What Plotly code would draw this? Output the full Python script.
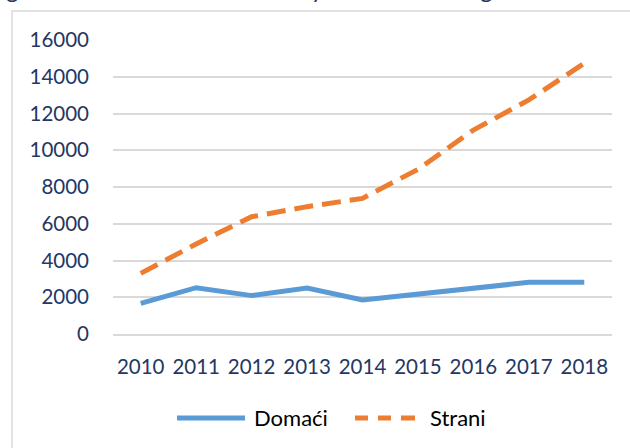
import plotly.graph_objects as go

years = ["2010", "2011", "2012", "2013", "2014", "2015", "2016", "2017", "2018"]
domaci = [1670, 2520, 2090, 2500, 1850, 2180, 2500, 2810, 2820]
strani = [3300, 4900, 6380, 6930, 7380, 8960, 11100, 12740, 14730]
y_ticks = [0, 2000, 4000, 6000, 8000, 10000, 12000, 14000, 16000]
series_names = ["Domaći", "Strani"]
series_colors = ["#5B9BD5", "#ED7D31"]

W, H = 630, 448
L, R, T, B = 113, 18, 40, 114
pw, ph = W - L - R, H - T - B

def px_x(x):
    return (x - L) / pw

def px_y(y):
    return (H - B - y) / ph

fig = go.Figure()
fig.add_trace(go.Scatter(x=years, y=domaci, name=series_names[0], mode="lines",
                         line=dict(color=series_colors[0], width=5)))
fig.add_trace(go.Scatter(x=years, y=strani, name=series_names[1], mode="lines",
                         line=dict(color=series_colors[1], width=5, dash="19px,9px")))

tick_font = dict(family="Lato", size=20.5, color="#1F3864")
fig.update_layout(
    width=W, height=H,
    margin=dict(l=L, r=R, t=T, b=B),
    paper_bgcolor="white", plot_bgcolor="white",
    showlegend=False,
    xaxis=dict(type="category", range=[-0.5, len(years) - 0.5],
               showgrid=False, zeroline=False,
               showline=True, linecolor="#D9D9D9", linewidth=1.5,
               ticks="", tickfont=tick_font, ticklabelstandoff=14),
    yaxis=dict(range=[0, 16000], tickvals=y_ticks,
               ticktext=[str(v) for v in y_ticks],
               showgrid=True, gridcolor="#D9D9D9", gridwidth=1.5,
               zeroline=False, showline=False, ticks="",
               tickfont=tick_font, ticklabelstandoff=23),
)

# chart-area border (cropped on right and bottom)
fig.add_shape(type="rect", xref="paper", yref="paper",
              x0=px_x(12), x1=px_x(700), y0=px_y(520), y1=px_y(11),
              line=dict(color="#D9D9D9", width=1.5), layer="below")

# legend (drawn to match the reference's long samples)
ly = px_y(418)
fig.add_shape(type="line", xref="paper", yref="paper",
              x0=px_x(177), x1=px_x(245), y0=ly, y1=ly,
              line=dict(color=series_colors[0], width=5))
for a, b in [(355, 368), (378, 391), (401, 415)]:
    fig.add_shape(type="line", xref="paper", yref="paper",
                  x0=px_x(a), x1=px_x(b), y0=ly, y1=ly,
                  line=dict(color=series_colors[1], width=5))
for name, xpx in [(series_names[0], 252), (series_names[1], 428)]:
    fig.add_annotation(text=name, xref="paper", yref="paper",
                       x=px_x(xpx), y=ly, xanchor="left", yanchor="middle",
                       showarrow=False,
                       font=dict(family="Lato", size=22, color="#000000"))

# clipped title fragments at top
for ch, xpx in [("g", 12), ("y", 317), ("g", 486)]:
    fig.add_annotation(text=ch, xref="paper", yref="paper",
                       x=px_x(xpx), y=px_y(5), xanchor="center", yanchor="bottom",
                       showarrow=False,
                       font=dict(family="Lato", size=24, color="#1F3864"))

fig.write_html("out.html", config={"displayModeBar": False},
               post_script="document.body.style.margin='0px';")
